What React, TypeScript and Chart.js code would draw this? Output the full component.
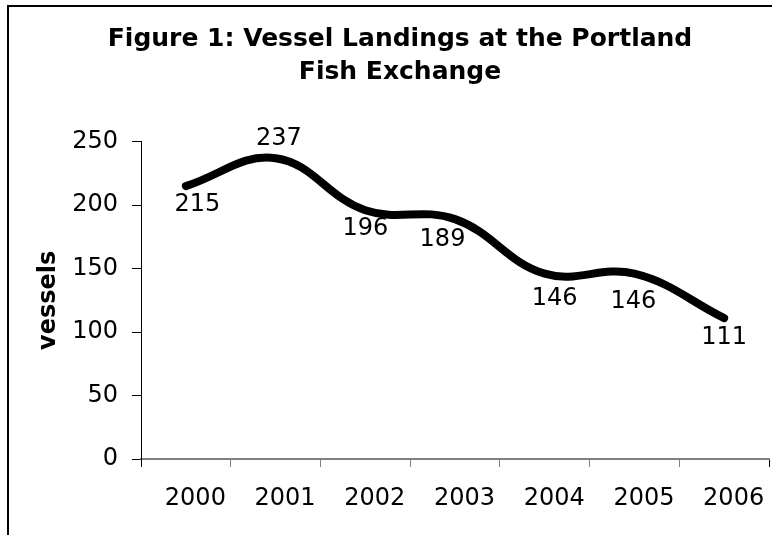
import React, { useEffect, useRef } from 'react';
import { Chart, registerables } from 'chart.js';

Chart.register(...registerables);

const years = ['2000', '2001', '2002', '2003', '2004', '2005', '2006'];
const vessels = [215, 237, 196, 189, 146, 146, 111];
const yTicks = [0, 50, 100, 150, 200, 250];
const titleLines = ['Figure 1: Vessel Landings at the Portland', 'Fish Exchange'];
const yAxisTitle = 'vessels';

const FONT = '"DejaVu Sans", Verdana, sans-serif';
const LABEL_OFFSETS: [number, number][] = [
  [11.5, 19],
  [3.4, -19.7],
  [0, 19],
  [-12.5, 21],
  [10, 24.6],
  [-1, 28],
  [0, 20],
];

export default function App() {
  const ref = useRef<HTMLCanvasElement>(null);

  useEffect(() => {
    document.body.style.margin = '0';
    document.body.style.overflow = 'hidden';
    const canvas = ref.current;
    if (!canvas) return;

    const labelPlugin = {
      id: 'pointValueLabels',
      afterDatasetsDraw(chart: any) {
        const ctx = chart.ctx;
        const meta = chart.getDatasetMeta(0);
        ctx.save();
        ctx.font = `24px ${FONT}`;
        ctx.fillStyle = '#000';
        ctx.textAlign = 'center';
        ctx.textBaseline = 'middle';
        meta.data.forEach((pt: any, i: number) => {
          const [dx, dy] = LABEL_OFFSETS[i] || [0, 20];
          ctx.fillText(String(vessels[i]), pt.x + dx, pt.y + dy);
        });
        ctx.restore();
      },
    };

    const chart = new Chart(canvas, {
      type: 'line',
      data: {
        labels: years,
        datasets: [
          {
            data: vessels,
            borderColor: '#000',
            backgroundColor: '#000',
            borderWidth: 8,
            pointRadius: 0,
            pointHoverRadius: 0,
            tension: 0.4,
            borderCapStyle: 'round',
            borderJoinStyle: 'round',
            fill: false,
          },
        ],
      },
      options: {
        responsive: false,
        animation: false,
        events: [],
        layout: { padding: { left: 22, right: 22, top: 0, bottom: 0 } },
        plugins: {
          legend: { display: false },
          tooltip: { enabled: false },
          title: {
            display: true,
            text: titleLines,
            color: '#000',
            font: { family: FONT, size: 25, weight: 'bold', lineHeight: 33 / 25 },
            padding: { top: 16, bottom: 52.7 },
          },
        },
        scales: {
          x: {
            type: 'category',
            offset: true,
            grid: {
              offset: true,
              drawOnChartArea: false,
              drawTicks: true,
              tickLength: 8,
              lineWidth: 1,
              color: (c: any) => (c.type === 'scale' || c.index === 0 ? '#000' : '#808080'),
            },
            border: { display: true, color: '#808080', width: 2 },
            ticks: {
              color: '#000',
              font: { family: FONT, size: 24 },
              padding: 17.6,
              labelOffset: 9.5,
              maxRotation: 0,
              minRotation: 0,
              autoSkip: false,
            },
            afterFit(scale: any) {
              scale.height = 76;
            },
          },
          y: {
            min: 0,
            max: 250,
            grid: {
              drawOnChartArea: false,
              drawTicks: true,
              tickLength: 9,
              color: '#000',
              lineWidth: 1,
            },
            border: { display: true, color: '#000', width: 1 },
            ticks: {
              color: '#000',
              font: { family: FONT, size: 24 },
              padding: 14,
            },
            afterBuildTicks(scale: any) {
              scale.ticks = yTicks.map((v) => ({ value: v }));
            },
            afterFit(scale: any) {
              scale.width = 110;
            },
            title: {
              display: true,
              text: yAxisTitle,
              color: '#000',
              font: { family: FONT, size: 24, weight: 'bold', lineHeight: 1.2 },
              padding: { top: 3.2, bottom: 0 },
            },
          },
        },
      },
      plugins: [labelPlugin],
    });

    return () => chart.destroy();
  }, []);

  return (
    <div style={{ position: 'relative', width: 772, height: 535, overflow: 'hidden', background: '#fff' }}>
      <div
        style={{
          position: 'absolute',
          left: 7,
          top: 5,
          width: 1200,
          height: 1200,
          border: '2px solid #000',
        }}
      />
      <canvas
        ref={ref}
        width={782}
        height={528}
        style={{ position: 'absolute', left: 9, top: 7, width: 782, height: 528 }}
      />
    </div>
  );
}
